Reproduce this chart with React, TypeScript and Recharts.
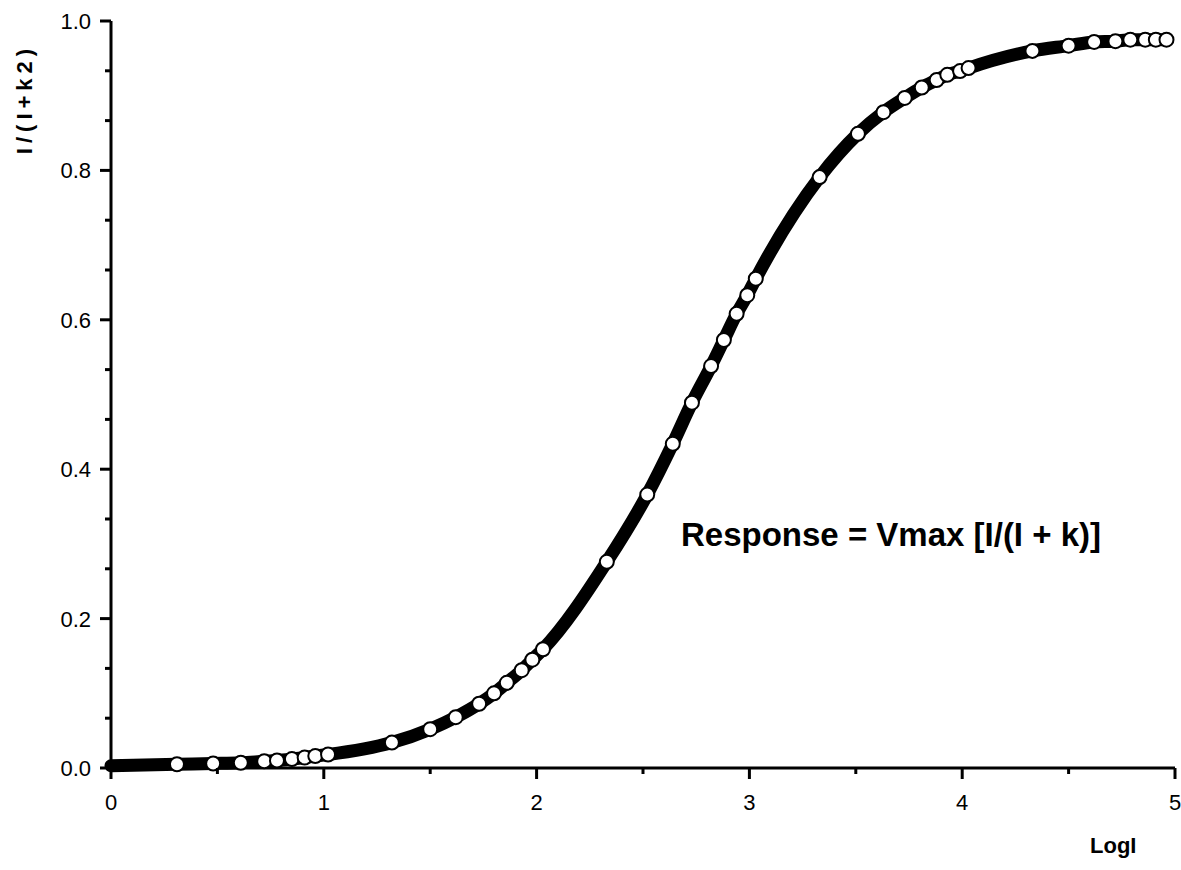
import React from 'react';
import { LineChart, Line, XAxis, YAxis } from 'recharts';

// log of intensity (x) and normalised response (y)
const logI = [
  0, 0.31, 0.48, 0.61, 0.72, 0.78, 0.85, 0.91, 0.96, 1.02,
  1.32, 1.5, 1.62, 1.73, 1.8, 1.86, 1.93, 1.98, 2.03,
  2.33, 2.52, 2.64, 2.73, 2.82, 2.88, 2.94, 2.99, 3.03,
  3.33, 3.51, 3.63, 3.73, 3.81, 3.88, 3.93, 3.99, 4.03,
  4.33, 4.5, 4.62, 4.72, 4.79, 4.86, 4.91, 4.96,
];
const response = [
  0.003, 0.005, 0.006, 0.007, 0.009, 0.01, 0.012, 0.014, 0.016, 0.018,
  0.034, 0.052, 0.068, 0.086, 0.1, 0.114, 0.131, 0.145, 0.159,
  0.276, 0.366, 0.434, 0.489, 0.538, 0.573, 0.608, 0.633, 0.655,
  0.791, 0.849, 0.878, 0.897, 0.911, 0.921, 0.928, 0.933, 0.937,
  0.96, 0.967, 0.972, 0.973, 0.975, 0.975, 0.975, 0.975,
];

const xMajorTicks = [0, 1, 2, 3, 4, 5];
const yMajorTicks = [0, 0.2, 0.4, 0.6, 0.8, 1.0];

// minor ticks: halves on x, thirds between majors on y
const xTicks = [0, 0.5, 1, 1.5, 2, 2.5, 3, 3.5, 4, 4.5, 5];
const yTicks: number[] = [];
yMajorTicks.forEach((v, i) => {
  yTicks.push(v);
  if (i < yMajorTicks.length - 1) {
    yTicks.push(v + 0.2 / 3, v + 0.4 / 3);
  }
});

const data = logI.map((x, i) => ({ x, y: response[i] }));

const FONT = '"Liberation Sans", Arial, Helvetica, sans-serif';

const XTick = (props: any) => {
  const { x, y, payload } = props;
  const major = xMajorTicks.some((t) => Math.abs(t - payload.value) < 1e-6);
  return (
    <g>
      <line x1={x} x2={x} y1={y} y2={y + (major ? 11 : 6)} stroke="#000" strokeWidth={3} />
      {major && (
        <text x={x} y={y + 42} textAnchor="middle" fontSize={22} fontFamily={FONT} fill="#000">
          {payload.value}
        </text>
      )}
    </g>
  );
};

const YTick = (props: any) => {
  const { x, y, payload } = props;
  const major = yMajorTicks.some((t) => Math.abs(t - payload.value) < 1e-6);
  return (
    <g>
      <line x1={x - (major ? 11 : 6)} x2={x} y1={y} y2={y} stroke="#000" strokeWidth={3} />
      {major && (
        <text x={x - 20} y={y} dy="0.36em" textAnchor="end" fontSize={22} fontFamily={FONT} fill="#000">
          {payload.value.toFixed(1)}
        </text>
      )}
    </g>
  );
};

// open circle markers; the one at the origin sits under the axes
const Marker = (props: any) => {
  const { cx, cy, index } = props;
  if (index === 0 || cx == null || cy == null) return <g key={`m-${index}`} />;
  return <circle key={`m-${index}`} cx={cx} cy={cy} r={7} fill="#fff" stroke="#000" strokeWidth={2} />;
};

export default function App() {
  return (
    <div style={{ position: 'relative', width: 1181, height: 870, background: '#fff', fontFamily: FONT }}>
      <style>{`body { margin: 0; }`}</style>
      <LineChart
        width={1181}
        height={870}
        data={data}
        margin={{ top: 21, right: 6, left: 0, bottom: 0 }}
      >
        <XAxis
          dataKey="x"
          type="number"
          domain={[0, 5]}
          ticks={xTicks}
          interval={0}
          height={102}
          tickSize={0}
          tickMargin={0}
          tickLine={false}
          axisLine={{ stroke: '#000', strokeWidth: 3 }}
          tick={<XTick />}
        />
        <YAxis
          type="number"
          domain={[0, 1]}
          ticks={yTicks}
          interval={0}
          width={111}
          tickSize={0}
          tickMargin={0}
          tickLine={false}
          axisLine={{ stroke: '#000', strokeWidth: 3 }}
          tick={<YTick />}
        />
        <Line
          dataKey="y"
          type="monotone"
          stroke="#000"
          strokeWidth={13}
          strokeLinecap="round"
          strokeLinejoin="round"
          dot={<Marker />}
          activeDot={false}
          isAnimationActive={false}
        />
      </LineChart>

      {/* y axis title */}
      <div
        style={{
          position: 'absolute',
          left: 25,
          top: 99,
          transform: 'translate(-50%, -50%) rotate(-90deg)',
          fontSize: 22,
          fontWeight: 'bold',
          letterSpacing: 5,
          whiteSpace: 'nowrap',
        }}
      >
        I/(I+k2)
      </div>

      {/* x axis title */}
      <div
        style={{
          position: 'absolute',
          left: 1090,
          top: 835,
          fontSize: 22,
          fontWeight: 'bold',
          whiteSpace: 'nowrap',
          lineHeight: 1,
        }}
      >
        LogI
      </div>

      {/* equation */}
      <div
        style={{
          position: 'absolute',
          left: 681,
          top: 518,
          fontSize: 33,
          fontWeight: 'bold',
          whiteSpace: 'nowrap',
          lineHeight: 1,
        }}
      >
        Response = Vmax [I/(I + k)]
      </div>
    </div>
  );
}
